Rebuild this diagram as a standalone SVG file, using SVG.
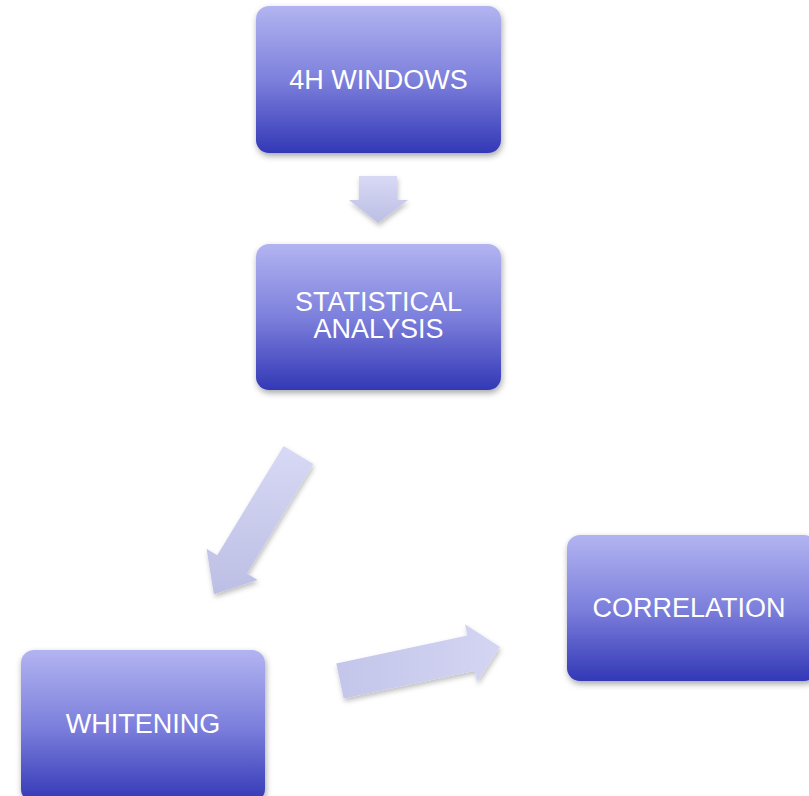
<svg xmlns="http://www.w3.org/2000/svg" width="809" height="796" viewBox="0 0 809 796">
  <defs>
    <linearGradient id="boxGrad" x1="0" y1="0" x2="0" y2="1">
      <stop offset="0" stop-color="#B2B4F1"/>
      <stop offset="0.5" stop-color="#7D80DC"/>
      <stop offset="1" stop-color="#3338B6"/>
    </linearGradient>
    <linearGradient id="arrowGrad" x1="0" y1="0" x2="0" y2="1">
      <stop offset="0" stop-color="#D8D9F5"/>
      <stop offset="1" stop-color="#BCBEE4"/>
    </linearGradient>
    <linearGradient id="arrowGradH" x1="0" y1="0" x2="1" y2="0">
      <stop offset="0" stop-color="#C3C5EA"/>
      <stop offset="1" stop-color="#D4D5F3"/>
    </linearGradient>
    <filter id="shadow" x="-10%" y="-10%" width="125%" height="130%">
      <feDropShadow dx="1" dy="3" stdDeviation="3" flood-color="#000" flood-opacity="0.35"/>
    </filter>
    <filter id="ashadow" x="-20%" y="-20%" width="150%" height="150%">
      <feDropShadow dx="1" dy="3" stdDeviation="2.5" flood-color="#000" flood-opacity="0.25"/>
    </filter>
  </defs>
  <style>
    .box { fill: url(#boxGrad); filter: url(#shadow); }
    .lbl { fill: #FFFFFF; font-family: "Liberation Sans", Arial, sans-serif; font-size: 27px; text-anchor: middle; }
    .arr { filter: url(#ashadow); }
  </style>

  <g id="connectors">
    <polygon class="arr" fill="url(#arrowGrad)" points="359,176 397,176 397,200 408,200 378,223 349,200 359,200"/>
    <polygon class="arr" fill="url(#arrowGrad)" points="283.6,445.9 313.4,464.1 247,573.4 257.7,579.9 213.9,594.2 206.5,548.7 217.2,555.2"/>
    <polygon class="arr" fill="url(#arrowGradH)" points="336.3,663.4 467.4,635.5 465,624.2 500,647 477.2,682 474.8,670.7 343.7,698.6"/>
  </g>

  <g id="node-4h-windows">
    <rect class="box" x="256" y="6" width="245" height="147" rx="13"/>
    <text class="lbl" x="378.5" y="89">4H WINDOWS</text>
  </g>

  <g id="node-statistical-analysis">
    <rect class="box" x="256" y="244" width="245" height="146" rx="13"/>
    <text class="lbl" x="378.5" y="311"><tspan x="378.5" y="311">STATISTICAL</tspan><tspan x="378.5" y="338">ANALYSIS</tspan></text>
  </g>

  <g id="node-whitening">
    <rect class="box" x="21" y="650" width="244" height="152" rx="13"/>
    <text class="lbl" x="143" y="733">WHITENING</text>
  </g>

  <g id="node-correlation">
    <rect class="box" x="567" y="535" width="250" height="146" rx="13"/>
    <text class="lbl" x="689" y="617">CORRELATION</text>
  </g>
</svg>
